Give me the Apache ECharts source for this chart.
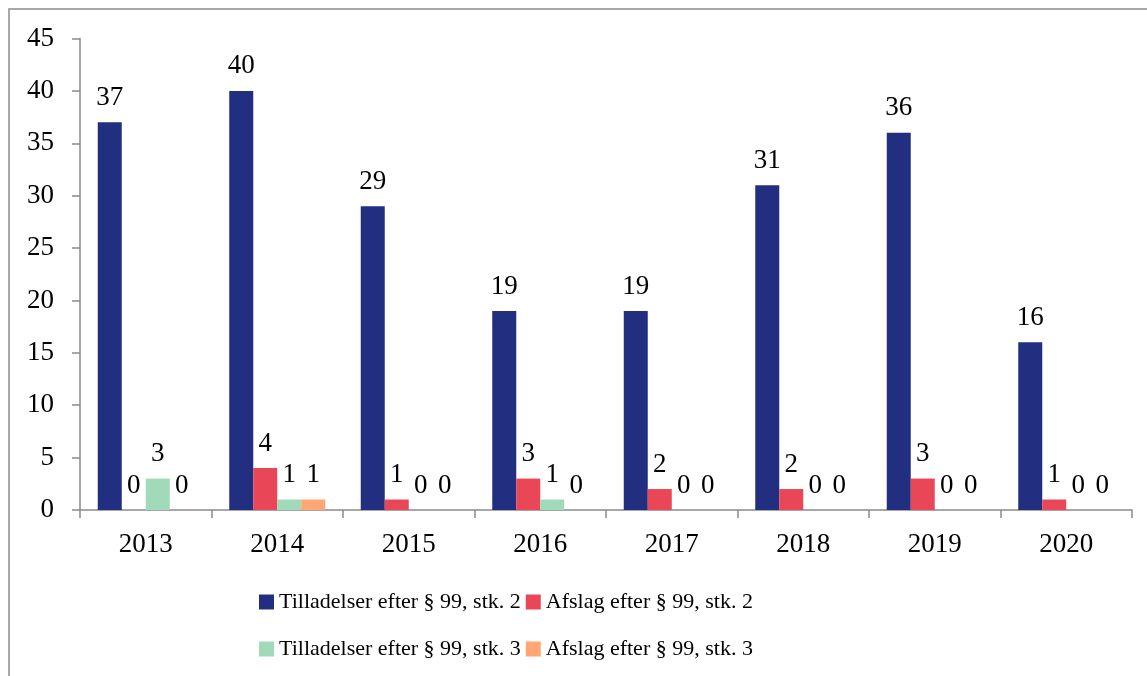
<!DOCTYPE html>
<html>
<head>
<meta charset="utf-8">
<script src="https://cdn.jsdelivr.net/npm/echarts@6/dist/echarts.min.js"></script>
<style>html,body{margin:0;padding:0;background:#fff}#c{width:1147px;height:676px}</style>
</head>
<body>
<div id="c"></div>
<script>
const categories = ['2013','2014','2015','2016','2017','2018','2019','2020'];
const seriesNames = ['Tilladelser efter § 99, stk. 2','Afslag efter § 99, stk. 2','Tilladelser efter § 99, stk. 3','Afslag efter § 99, stk. 3'];
const tilladelser2 = [37,40,29,19,19,31,36,16];
const afslag2 = [0,4,1,3,2,2,3,1];
const tilladelser3 = [3,1,0,1,0,0,0,0];
const afslag3 = [0,1,0,0,0,0,0,0];
const yTicks = {min:0, max:45, interval:5};

const colors = ['#222E80','#E94657','#A0DAB8','#FFA674'];
const font = 'Liberation Serif';
const values = [tilladelser2, afslag2, tilladelser3, afslag3];

const chart = echarts.init(document.getElementById('c'), null, {renderer:'canvas'});
chart.setOption({
  animation:false,
  backgroundColor:'#fff',
  color: colors,
  graphic:[{type:'rect', shape:{x:9,y:9,width:1300,height:800}, style:{fill:'none', stroke:'#8c8c8c', lineWidth:1.5}, silent:true, z:-10}],
  grid:{left:80, right:15, top:38.5, bottom:166, containLabel:false},
  legend:[
    {data:[seriesNames[0],seriesNames[1]], left:254, top:586, itemWidth:15, itemHeight:15, itemGap:5, icon:'rect',
     textStyle:{fontFamily:font, fontSize:22, color:'#000'}},
    {data:[seriesNames[2],seriesNames[3]], left:254, top:633, itemWidth:15, itemHeight:15, itemGap:5, icon:'rect',
     textStyle:{fontFamily:font, fontSize:22, color:'#000'}}
  ],
  xAxis:{type:'category', data:categories,
    axisLine:{lineStyle:{color:'#8a8a8a', width:1.5}},
    axisTick:{show:true, length:8, lineStyle:{color:'#8a8a8a', width:1.5}},
    axisLabel:{fontFamily:font, fontSize:27, color:'#000', margin:21}},
  yAxis:{type:'value', min:yTicks.min, max:yTicks.max, interval:yTicks.interval,
    splitLine:{show:false},
    axisLine:{show:true, lineStyle:{color:'#8a8a8a', width:1.5}},
    axisTick:{show:true, length:8, lineStyle:{color:'#8a8a8a', width:1.5}},
    axisLabel:{fontFamily:font, fontSize:27, color:'#000', margin:26}},
  series: seriesNames.map((n,i)=>({
    name:n, type:'bar', data:values[i], barWidth:24, barGap:'0%',
    itemStyle:{color:colors[i]},
    label:{show:true, position:'top', distance:11, fontFamily:font, fontSize:27, color:'#000'}
  }))
});
</script>
</body>
</html>
